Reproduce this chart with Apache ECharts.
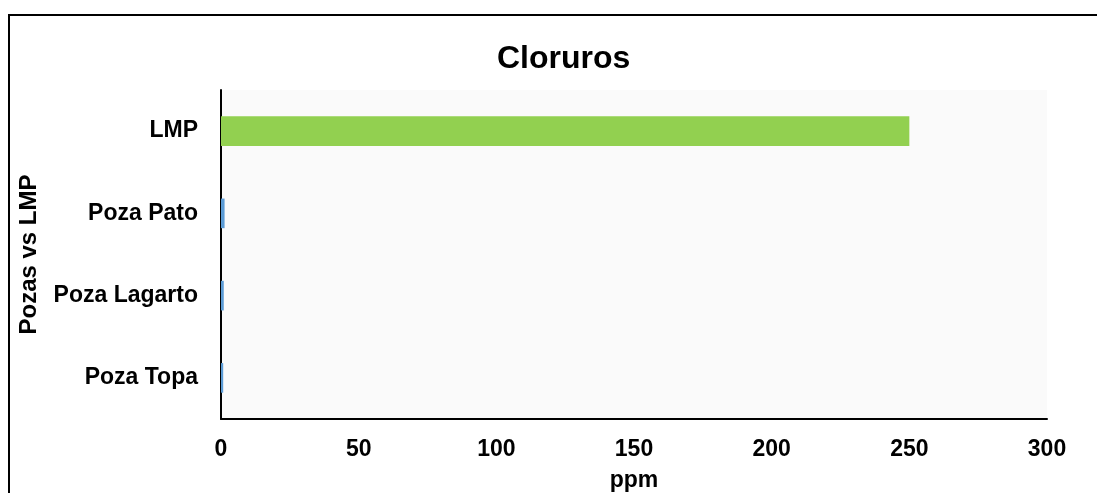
<!DOCTYPE html>
<html><head><meta charset="utf-8">
<script src="https://cdn.jsdelivr.net/npm/echarts@6/dist/echarts.min.js"></script>
<style>html,body{margin:0;padding:0;background:#fff}#c{width:1097px;height:493px}</style>
</head><body><div id="c"></div>
<script>
const categories = ['Poza Topa', 'Poza Lagarto', 'Poza Pato', 'LMP'];
const values = [0.8, 1.0, 1.3, 250];
const barColors = ['#5b9bd5', '#5b9bd5', '#5b9bd5', '#92d050'];
const xTicks = [0, 50, 100, 150, 200, 250, 300];

const chart = echarts.init(document.getElementById('c'));
const font = 'Liberation Sans, Arial, sans-serif';
chart.setOption({
  animation: false,
  title: {text: 'Cloruros', left: 492, top: 38, textStyle: {fontFamily: font, fontWeight: 'bold', fontSize: 32, color: '#000'}},
  graphic: [{type: 'rect', shape: {x: 9, y: 15, width: 1200, height: 600}, style: {fill: 'none', stroke: '#000', lineWidth: 2}, z: 100}],
  grid: {left: 221, right: 50, top: 90, bottom: 74, outerBoundsMode: 'none', containLabel: false,
    show: true, backgroundColor: '#fafafa', borderWidth: 0},
  xAxis: {type: 'value', min: xTicks[0], max: xTicks[xTicks.length-1], interval: 50,
    name: 'ppm', nameLocation: 'middle', nameGap: 50,
    nameTextStyle: {fontFamily: font, fontWeight: 'bold', fontSize: 23, color: '#000'},
    axisLine: {show: true, lineStyle: {color: '#000', width: 2}}, axisTick: {show: false},
    splitLine: {show: false},
    axisLabel: {fontFamily: font, fontWeight: 'bold', fontSize: 23, color: '#000', margin: 19}},
  yAxis: {type: 'category', data: categories,
    name: 'Pozas vs LMP', nameLocation: 'middle', nameGap: 180, nameRotate: 90,
    nameTextStyle: {fontFamily: font, fontWeight: 'bold', fontSize: 24, color: '#000'},
    axisLine: {show: true, lineStyle: {color: '#000', width: 2}}, axisTick: {show: false},
    axisLabel: {fontFamily: font, fontWeight: 'bold', fontSize: 23, color: '#000', margin: 23}},
  series: [{type: 'bar', barWidth: '36%',
    data: values.map((v, i) => ({value: v, itemStyle: {color: barColors[i]}}))}]
});
</script></body></html>
